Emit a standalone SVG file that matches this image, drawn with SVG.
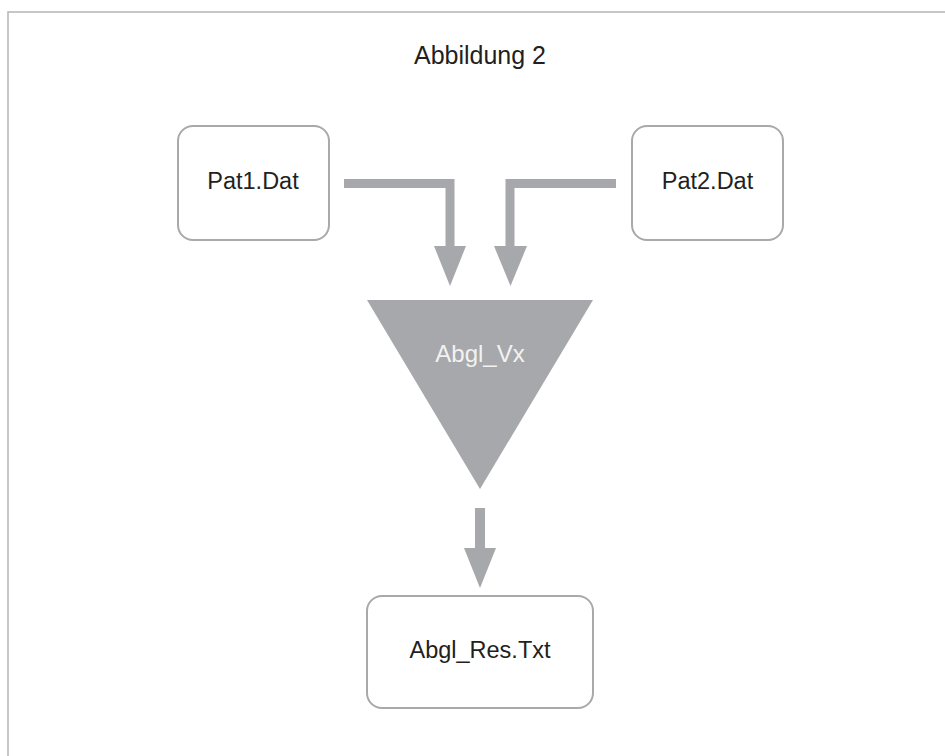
<svg xmlns="http://www.w3.org/2000/svg" width="945" height="756" viewBox="0 0 945 756">
<defs>
<style>
.frame{fill:none;stroke:#b4b4b4;stroke-width:1.5}
.box{fill:#ffffff;stroke:#a9a9ab;stroke-width:2}
.lbl{font-family:"Liberation Sans",Arial,sans-serif;font-size:23.5px;fill:#231f20;text-anchor:middle}
.title{font-family:"Liberation Sans",Arial,sans-serif;font-size:25px;fill:#231f20;text-anchor:middle}
.tri{fill:#a7a8ab}
.trilbl{font-family:"Liberation Sans",Arial,sans-serif;font-size:24px;fill:#f2f2f2;text-anchor:middle}
.shaft{fill:none;stroke:#a7a8ab;stroke-width:9;stroke-linejoin:miter}
.head{fill:#a7a8ab}
</style>
</defs>
<rect width="945" height="756" fill="#ffffff"/>
<path class="frame" d="M8 760 V12 H950"/>
<text class="title" x="480" y="64">Abbildung 2</text>
<g id="pat1">
<rect class="box" x="178" y="126" width="151" height="114" rx="15"/>
<text class="lbl" x="253" y="189">Pat1.Dat</text>
</g>
<g id="pat2">
<rect class="box" x="632" y="126" width="151" height="114" rx="15"/>
<text class="lbl" x="707.5" y="189">Pat2.Dat</text>
</g>
<g id="abgl_vx">
<polygon class="tri" points="367,300 593,300 480,489"/>
<text class="trilbl" x="480" y="362">Abgl_Vx</text>
</g>
<g id="abgl_res">
<rect class="box" x="367" y="596" width="226" height="112" rx="15"/>
<text class="lbl" x="480" y="658">Abgl_Res.Txt</text>
</g>
<g id="connectors">
<path class="shaft" d="M344 183.5 H450 V247"/>
<polygon class="head" points="434,246 466,246 450,286"/>
<path class="shaft" d="M616 183.5 H510 V247"/>
<polygon class="head" points="494,246 527,246 510.5,286"/>
<path class="shaft" style="stroke-width:10" d="M480 508 V549"/>
<polygon class="head" points="464,548 496,548 480,588"/>
</g>
</svg>
